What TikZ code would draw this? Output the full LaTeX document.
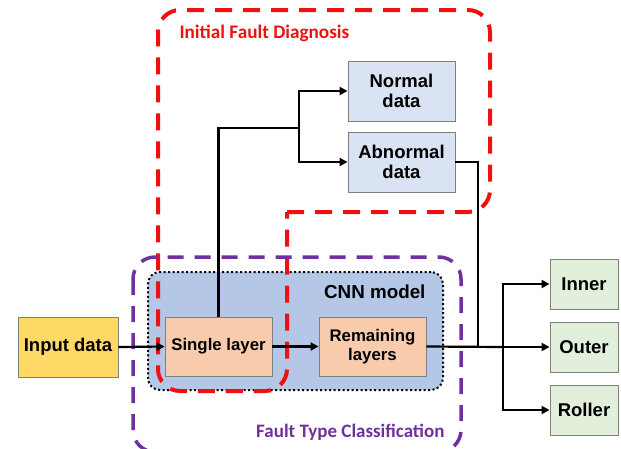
\documentclass[tikz,border=0pt]{standalone}
\usepackage{fontspec}
\setmainfont{Liberation Sans}
\newfontfamily\calfont{Carlito}
\usetikzlibrary{arrows.meta}
\definecolor{cnnblue}{HTML}{B4C7E7}
\definecolor{inpfill}{HTML}{FFD966}
\definecolor{peach}{HTML}{F8CBAD}
\definecolor{lightblue}{HTML}{DAE3F3}
\definecolor{lightgreen}{HTML}{E2EFDA}
\definecolor{boxborder}{HTML}{7F7F7F}
\definecolor{purp}{HTML}{7030A0}
\definecolor{redd}{HTML}{F01010}
\tikzset{
  box/.style={draw=boxborder, line width=0.9pt, inner sep=0pt, align=center,
    font=\bfseries\fontsize{18.5}{20}\selectfont},
  smallbox/.style={box, font=\bfseries\fontsize{16.8}{19}\selectfont},
  conn/.style={line width=2.2pt, -{Triangle[length=8pt,width=8pt]}},
  wire/.style={line width=2.2pt},
  thinwire/.style={line width=1.6pt},
  reddash/.style={draw=redd, line width=4pt, dash pattern=on 17pt off 11pt},
  purpdash/.style={draw=purp, line width=3.5pt, dash pattern=on 16pt off 11pt},
}
\begin{document}
\begin{tikzpicture}[x=1pt,y=-1pt]
\useasboundingbox (0,0) rectangle (621,448);
\clip (0,0) rectangle (621,448);
% CNN model area
\node[draw=black, fill=cnnblue, line width=2pt, dash pattern=on 2pt off 2.5pt,
  rounded corners=12pt, minimum width=295pt, minimum height=118pt, inner sep=0pt]
  (cnn) at (295.5,331) {};
\node[anchor=east, font=\bfseries\fontsize{18.8}{20}\selectfont] (cnnlabel) at (429,292) {CNN model};
% Initial fault diagnosis region
\draw[reddash, rounded corners=22pt] (287,212) -- (490,212) -- (490,10) -- (158,10) -- (158,391) -- (287,391) -- (287,212);
\node[anchor=west, text=redd, font=\calfont\bfseries\fontsize{19.2}{21}\selectfont] (idlabel) at (176,33) {Initial Fault Diagnosis};
% Fault type classification region
\draw[purpdash, rounded corners=22pt] (133,257) rectangle (461,452);
\node[anchor=east, text=purp, font=\calfont\bfseries\fontsize{19}{21}\selectfont] (ftlabel) at (448,432) {Fault Type Classification};
% boxes
\node[box, fill=inpfill, minimum width=100pt, minimum height=60pt] (inp) at (68,347) {Input data};
\node[smallbox, fill=peach, minimum width=107pt, minimum height=59pt] (single) at (218.5,346.5) {Single layer};
\node[smallbox, fill=peach, minimum width=107pt, minimum height=59pt] (remain) at (372.5,346.5) {Remaining\\layers};
\node[box, fill=lightblue, minimum width=107pt, minimum height=60pt] (normal) at (401.5,91) {Normal\\data};
\node[box, fill=lightblue, minimum width=107pt, minimum height=60pt] (abnormal) at (401.5,162) {Abnormal\\data};
\node[box, fill=lightgreen, minimum width=68pt, minimum height=50pt] (inner) at (584,284) {Inner};
\node[box, fill=lightgreen, minimum width=68pt, minimum height=50pt] (outer) at (584,347) {Outer};
\node[box, fill=lightgreen, minimum width=68pt, minimum height=50pt] (roller) at (584,410) {Roller};
% connectors
\coordinate (br1) at (299,128);
\coordinate (j1) at (478,347);
\coordinate (br2) at (503,347);
\draw[conn] (inp.east) -- (single.west);
\draw[conn] (single.east) -- (remain.west);
\draw[wire] (single.north) |- (br1);
\draw[conn] (br1) |- (normal.west);
\draw[conn] (br1) |- (abnormal.west);
\draw[thinwire] (abnormal.east) -| (j1);
\draw[wire] (remain.east) -- (br2);
\draw[conn] (br2) |- (inner.west);
\draw[conn] (br2) -- (outer.west);
\draw[conn] (br2) |- (roller.west);
\end{tikzpicture}
\end{document}
